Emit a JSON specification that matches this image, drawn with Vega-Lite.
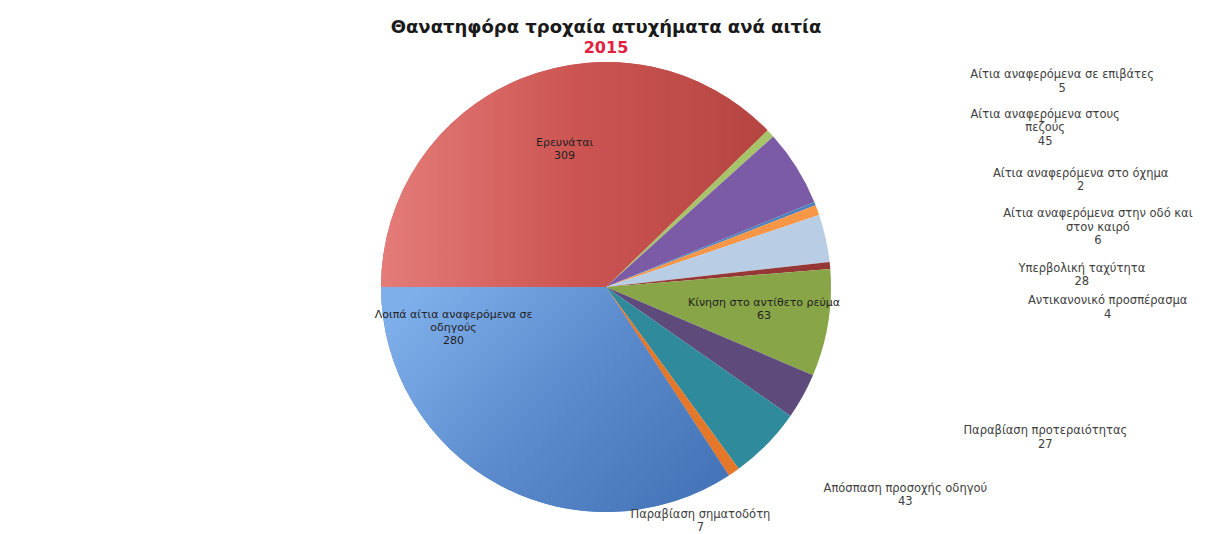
{
  "$schema": "https://vega.github.io/schema/vega-lite/v6.json",
  "width": 1212,
  "height": 494,
  "autosize": "none",
  "padding": {"top": 40, "left": 0, "right": 0, "bottom": 0},
  "background": "white",
  "config": {"view": {"stroke": null}},
  "title": {
    "text": "Θανατηφόρα τροχαία ατυχήματα ανά αιτία",
    "subtitle": "2015",
    "anchor": "middle",
    "font": "DejaVu Sans",
    "fontSize": 18,
    "fontWeight": "bold",
    "color": "#1a1a1a",
    "subtitleFont": "DejaVu Sans",
    "subtitleFontSize": 16,
    "subtitleFontWeight": "bold",
    "subtitleColor": "#e3203f",
    "subtitlePadding": 3,
    "offset": -16
  },
  "data": {
    "values": [
      {"idx": 1, "cause": "Ερευνάται", "value": 309, "label": "Ερευνάται\n309"},
      {"idx": 2, "cause": "Αίτια αναφερόμενα σε επιβάτες", "value": 5, "label": "Αίτια αναφερόμενα σε επιβάτες\n5"},
      {"idx": 3, "cause": "Αίτια αναφερόμενα στους πεζούς", "value": 45, "label": "Αίτια αναφερόμενα στους\nπεζούς\n45"},
      {"idx": 4, "cause": "Αίτια αναφερόμενα στο όχημα", "value": 2, "label": "Αίτια αναφερόμενα στο όχημα\n2"},
      {"idx": 5, "cause": "Αίτια αναφερόμενα στην οδό και στον καιρό", "value": 6, "label": "Αίτια αναφερόμενα στην οδό και\nστον καιρό\n6"},
      {"idx": 6, "cause": "Υπερβολική ταχύτητα", "value": 28, "label": "Υπερβολική ταχύτητα\n28"},
      {"idx": 7, "cause": "Αντικανονικό προσπέρασμα", "value": 4, "label": "Αντικανονικό προσπέρασμα\n4"},
      {"idx": 8, "cause": "Κίνηση στο αντίθετο ρεύμα", "value": 63, "label": "Κίνηση στο αντίθετο ρεύμα\n63"},
      {"idx": 9, "cause": "Παραβίαση προτεραιότητας", "value": 27, "label": "Παραβίαση προτεραιότητας\n27"},
      {"idx": 10, "cause": "Απόσπαση προσοχής οδηγού", "value": 43, "label": "Απόσπαση προσοχής οδηγού\n43"},
      {"idx": 11, "cause": "Παραβίαση σηματοδότη", "value": 7, "label": "Παραβίαση σηματοδότη\n7"},
      {"idx": 12, "cause": "Λοιπά αίτια αναφερόμενα σε οδηγούς", "value": 280, "label": "Λοιπά αίτια αναφερόμενα σε\nοδηγούς\n280"}
    ]
  },
  "encoding": {
    "theta": {"field": "value", "type": "quantitative", "stack": true, "scale": {"range": [4.71238898, 10.99557429]}},
    "order": {"field": "idx", "type": "quantitative"}
  },
  "layer": [
    {
      "mark": {"type": "arc", "radius": 225, "stroke": null},
      "encoding": {
        "color": {
          "field": "cause",
          "type": "nominal",
          "legend": null,
          "scale": {
            "domain": ["Ερευνάται", "Αίτια αναφερόμενα σε επιβάτες", "Αίτια αναφερόμενα στους πεζούς", "Αίτια αναφερόμενα στο όχημα", "Αίτια αναφερόμενα στην οδό και στον καιρό", "Υπερβολική ταχύτητα", "Αντικανονικό προσπέρασμα", "Κίνηση στο αντίθετο ρεύμα", "Παραβίαση προτεραιότητας", "Απόσπαση προσοχής οδηγού", "Παραβίαση σηματοδότη", "Λοιπά αίτια αναφερόμενα σε οδηγούς"],
            "range": ["#c9524f", "#a8c46a", "#7b5aa6", "#4f81bd", "#f79646", "#b9cde5", "#953735", "#88a548", "#5f4a7c", "#2f8a9c", "#e4772a", "#5a8bcb"]
          }
        }
      }
    },
    {
      "mark": {"type": "arc", "radius": 225, "stroke": null},
      "encoding": {
        "fill": {
          "condition": [
            {"test": "datum.idx == 1", "value": {"gradient": "linear", "x1": 0, "y1": 0.5, "x2": 1, "y2": 0.5, "stops": [{"offset": 0, "color": "#e47c79"}, {"offset": 0.5, "color": "#cc5552"}, {"offset": 1, "color": "#b54542"}]}},
            {"test": "datum.idx == 12", "value": {"gradient": "linear", "x1": 0, "y1": 0.2, "x2": 1, "y2": 0.8, "stops": [{"offset": 0, "color": "#7fafea"}, {"offset": 0.5, "color": "#5b8bcc"}, {"offset": 1, "color": "#4575b8"}]}}
          ],
          "value": "transparent"
        }
      }
    },
    {
      "mark": {"type": "text", "clip": true, "radius": 150, "dx": 15, "dy": -5, "font": "DejaVu Sans", "fontSize": 11, "fill": "#222222", "lineBreak": "\n", "align": "center", "baseline": "middle"},
      "encoding": {"text": {"condition": {"test": "datum.idx == 1", "field": "label"}, "value": ""}}
    },
    {
      "mark": {"type": "text", "clip": true, "radius": 150, "dx": 10, "dy": -8, "font": "DejaVu Sans", "fontSize": 11, "fill": "#222222", "lineBreak": "\n", "align": "center", "baseline": "middle"},
      "encoding": {"text": {"condition": {"test": "datum.idx == 8", "field": "label"}, "value": ""}}
    },
    {
      "mark": {"type": "text", "clip": true, "radius": 150, "dx": -81, "dy": -104, "font": "DejaVu Sans", "fontSize": 11, "fill": "#222222", "lineBreak": "\n", "align": "center", "baseline": "middle"},
      "encoding": {"text": {"condition": {"test": "datum.idx == 12", "field": "label"}, "value": ""}}
    },
    {
      "mark": {"type": "text", "clip": true, "radius": 300, "dx": 237, "dy": -7, "font": "DejaVu Sans", "fontSize": 11.5, "fill": "#404040", "lineBreak": "\n", "align": "center", "baseline": "middle"},
      "encoding": {"text": {"condition": {"test": "datum.idx == 2", "field": "label"}, "value": ""}}
    },
    {
      "mark": {"type": "text", "clip": true, "radius": 300, "dx": 185, "dy": -13, "font": "DejaVu Sans", "fontSize": 11.5, "fill": "#404040", "lineBreak": "\n", "align": "center", "baseline": "middle"},
      "encoding": {"text": {"condition": {"test": "datum.idx == 3", "field": "label"}, "value": ""}}
    },
    {
      "mark": {"type": "text", "clip": true, "radius": 300, "dx": 196, "dy": -2, "font": "DejaVu Sans", "fontSize": 11.5, "fill": "#404040", "lineBreak": "\n", "align": "center", "baseline": "middle"},
      "encoding": {"text": {"condition": {"test": "datum.idx == 4", "field": "label"}, "value": ""}}
    },
    {
      "mark": {"type": "text", "clip": true, "radius": 300, "dx": 210, "dy": 30, "font": "DejaVu Sans", "fontSize": 11.5, "fill": "#404040", "lineBreak": "\n", "align": "center", "baseline": "middle"},
      "encoding": {"text": {"condition": {"test": "datum.idx == 5", "field": "label"}, "value": ""}}
    },
    {
      "mark": {"type": "text", "clip": true, "radius": 300, "dx": 183, "dy": 47, "font": "DejaVu Sans", "fontSize": 11.5, "fill": "#404040", "lineBreak": "\n", "align": "center", "baseline": "middle"},
      "encoding": {"text": {"condition": {"test": "datum.idx == 6", "field": "label"}, "value": ""}}
    },
    {
      "mark": {"type": "text", "clip": true, "radius": 300, "dx": 203, "dy": 43, "font": "DejaVu Sans", "fontSize": 11.5, "fill": "#404040", "lineBreak": "\n", "align": "center", "baseline": "middle"},
      "encoding": {"text": {"condition": {"test": "datum.idx == 7", "field": "label"}, "value": ""}}
    },
    {
      "mark": {"type": "text", "clip": true, "radius": 300, "dx": 177, "dy": -1, "font": "DejaVu Sans", "fontSize": 11.5, "fill": "#404040", "lineBreak": "\n", "align": "center", "baseline": "middle"},
      "encoding": {"text": {"condition": {"test": "datum.idx == 9", "field": "label"}, "value": ""}}
    },
    {
      "mark": {"type": "text", "clip": true, "radius": 300, "dx": 85, "dy": -8, "font": "DejaVu Sans", "fontSize": 11.5, "fill": "#404040", "lineBreak": "\n", "align": "center", "baseline": "middle"},
      "encoding": {"text": {"condition": {"test": "datum.idx == 10", "field": "label"}, "value": ""}}
    },
    {
      "mark": {"type": "text", "clip": true, "radius": 300, "dx": -76, "dy": -19, "font": "DejaVu Sans", "fontSize": 11.5, "fill": "#404040", "lineBreak": "\n", "align": "center", "baseline": "middle"},
      "encoding": {"text": {"condition": {"test": "datum.idx == 11", "field": "label"}, "value": ""}}
    }
  ]
}
